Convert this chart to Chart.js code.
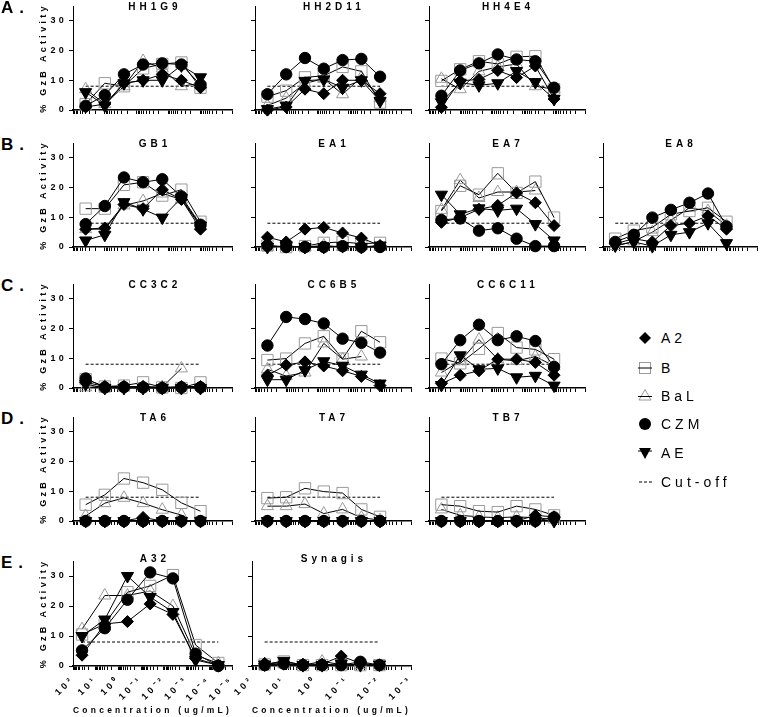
<!DOCTYPE html>
<html><head><meta charset="utf-8">
<script src="https://cdn.jsdelivr.net/npm/chart.js@4.4.0/dist/chart.umd.min.js"></script>
<style>
body{margin:0;background:#fff;width:760px;height:717px;position:relative;overflow:hidden;font-family:"Liberation Sans",Arial,sans-serif;color:#000;}
canvas{position:absolute;}
.ttl{position:absolute;font-weight:bold;font-size:10px;line-height:12px;letter-spacing:4px;text-align:center;white-space:nowrap;width:160px;}
.row{position:absolute;font-weight:bold;font-size:17px;line-height:20px;letter-spacing:6px;left:1px;}
.leg{position:absolute;font-size:14px;line-height:18px;letter-spacing:4px;left:661px;}
.sym{position:absolute;left:635px;width:20px;height:20px;}
</style></head><body>
<script>
// ---------- data ----------
const SERIES = ['A2', 'B', 'BaL', 'CZM', 'AE'];
const LEGEND_LABELS = ['A2', 'B', 'BaL', 'CZM', 'AE', 'Cut-off'];
const ROW_LABELS = ['A.', 'B.', 'C.', 'D.', 'E.'];
const CONC_4FOLD = [40, 10, 2.5, 0.625, 0.156, 0.039, 0.0098];
const CONC_10FOLD = [40, 4, 0.4, 0.04, 0.004, 0.0004, 0.00004];
const CUTOFF = 8;
const Y_TICKS = [0, 10, 20, 30];
const X_DECADES_5 = [2, 1, 0, -1, -2, -3];
const X_DECADES_7 = [2, 1, 0, -1, -2, -3, -4, -5];
const X_TITLE = 'Concentration (ug/mL)';
const Y_TITLE = '% GzB Activity';

// series order in each panel: A2, B, BaL, CZM, AE
const HH1G9 = [
  [1, 2, 9, 10, 12, 10, 7.5],
  [2, 9, 8, 14, 15.5, 16, 7.5],
  [7, 2, 8, 16.5, 14, 8, 9],
  [1.4, 5, 12, 15.3, 15.7, 15.3, 8.5],
  [6, 1.5, 9, 10, 10, 15, 11]
];
const HH2D11 = [
  [0, 1, 7, 5.5, 10, 10, 5.5],
  [4.5, 6.5, 11, 11.5, 14.5, 13, 2.5],
  [1.5, 4, 9, 10.5, 5.3, 11, 4],
  [5.3, 12, 17.5, 13.9, 16.8, 17.2, 11.2],
  [0.3, 1.4, 9.8, 10.3, 7.5, 10, 3]
];
const HH4E4 = [
  [0.9, 9.8, 10.3, 13.3, 10.9, 14.8, 3.7],
  [9.8, 13.7, 16.4, 15.5, 17.9, 18.1, 7],
  [10.5, 7, 13, 14.5, 15.5, 8, 7],
  [4.8, 13.3, 15.7, 18.7, 17, 16.4, 7.5],
  [2.6, 9.2, 8.3, 9, 13.1, 9.4, 3.7]
];
const GB1 = [
  [6, 6.4, 14.3, 12.9, 19.3, 16, 6],
  [12.9, 12.9, 20.9, 21.8, 17.3, 19.3, 8.5],
  [6, 6, 14, 15.5, 18, 16, 7],
  [7.7, 13.8, 23.4, 21.8, 22.8, 17, 7.5],
  [2.2, 4.1, 15.1, 12.7, 9.9, 16.5, 7.2]
];
const EA1 = [
  [3.3, 1.7, 6, 6.6, 4.7, 3, 0.5],
  [0.5, 0, 0.3, 1.4, 1.7, 1.1, 1.4],
  [0, 0.3, 0, 0.5, 0, 0.3, 0],
  [0.5, 0, 0, 0, 0.3, 0, 0],
  [0, 0.3, 0, 0, 0.3, 0, 0.5]
];
const EA7 = [
  [8.3, 9.9, 12.7, 14, 18.2, 14.9, 7.2],
  [12.1, 20.6, 17.6, 24.8, 18.2, 22, 9.9],
  [12.5, 22.5, 16.5, 18.5, 18.5, 19, null],
  [9.1, 9.6, 5.5, 6.3, 2.8, 0.3, 0.3],
  [17.6, 11, 13, 12.3, 12.9, 7.7, 2.2]
];
const EA8 = [
  [1.1, 2.8, 1.7, 7.2, 8, 10.5, 6],
  [2.8, 5.5, 6.6, 11, 12.1, 13.2, 8.5],
  [0.3, 1.9, 5, 9, 13.2, 12.1, 7.2],
  [1.7, 4.1, 9.9, 12.5, 14.9, 18, 6.9],
  [0.5, 1.7, 0.3, 4.1, 5, 8, 1.3]
];
const CC3C2 = [
  [1.9, 0.5, 0.5, 0.5, 0.2, 0.5, 0.5],
  [3, 0.5, 0.8, 1.9, 0.2, 0, 1.9],
  [0.2, 0.5, 0.5, 0.3, 0.3, 6.6, null],
  [3.2, 0.2, 0.3, 0.2, 0, 0.2, 0.2],
  [1.3, 0, 0, 0, 0, 0, 0]
];
const CC6B5 = [
  [4.3, 7.7, 8.8, 7.4, 5.8, 3.9, 0.8],
  [9.4, 9.9, 15, 17.4, 9.9, 19.1, 15.4],
  [6.3, 4, 5.2, 15, 9.7, 10.6, null],
  [14.3, 23.9, 23.2, 21.7, 16.6, 15.2, 11.9],
  [2.8, 2.8, 6, 9, 7.5, 4.5, 1.5]
];
const CC6C11 = [
  [1.5, 4.3, 5.8, 9.7, 9.7, 8.6, 4.3],
  [9.9, 8.3, 13.2, 18.5, 13.6, 13, 9.7],
  [5.2, 9, 16.3, 9.7, 9.1, 10.6, 7.4],
  [8, 16.1, 21.3, 16.1, 17.4, 15.8, 7.1],
  [1, 11, 6.3, 6.6, 3.6, 4.1, 0.8]
];
const TA6 = [
  [0, 0, 0, 1.2, 0, 0, 0],
  [5.5, 8.8, 14.3, 12.9, 10.5, 6.1, 3.3],
  [1.7, 6, 7.8, 6, 3.8, 2, null],
  [0, 0, 0, 0, 0, 0, 0],
  [0, 0, 0, 0, 0, 0, 0]
];
const TA7 = [
  [0, 0, 0, 0, 0, 0, 0],
  [7.7, 8, 11, 9.9, 9.4, 3.9, 1.4],
  [5, 5, 5.7, 2.5, 3.9, 1.1, 0.3],
  [0, 0, 0, 0, 0, 0, 0],
  [0, 0, 0, 0, 0, 0, 0]
];
const TB7 = [
  [0, 0, 0, 0, 0, 1.9, 1.4],
  [5.5, 5, 3.3, 3, 5, 3.9, 1.9],
  [3.9, 1.9, 1.4, 1.1, 1.4, 1.1, 0.5],
  [0, 0, 0, 0, 0, 0, 1.2],
  [0, 0, 0, 0, 0, 0, 0]
];
const A32 = [
  [3.6, 14, 14.8, 20.7, 17.2, 2.5, 0.3],
  [10.5, 14, 24.6, 26.7, 30.3, 7, 1],
  [12.3, 23.5, 23.5, 25, 20, 3.6, 0.9],
  [5.2, 12.6, 22.1, 31.2, 29.2, 4.1, 0],
  [10, 15.5, 30, 23, 18, 2, 0.3]
];
const SYNAGIS = [
  [0.9, 0.6, 0.6, 0.6, 3.3, 0.9, 0.3],
  [0.5, 1.5, 0.3, 0.3, 0.3, 0.3, 0.3],
  [0.3, 0.5, 0.3, 1.5, 0.5, 0.3, 0.3],
  [0.3, 0.8, 0.3, 0.3, 0.3, 1.4, 0.3],
  [0.5, 1.7, 0.3, 0.3, 0.8, 0.3, 0.5]
];

// ---------- layout ----------
const PANELS = [
  {name:'HH1G9', vals:HH1G9, row:0, col:0, conc:CONC_4FOLD, dec:X_DECADES_5},
  {name:'HH2D11', vals:HH2D11, row:0, col:1, conc:CONC_4FOLD, dec:X_DECADES_5},
  {name:'HH4E4', vals:HH4E4, row:0, col:2, conc:CONC_4FOLD, dec:X_DECADES_5},
  {name:'GB1', vals:GB1, row:1, col:0, conc:CONC_4FOLD, dec:X_DECADES_5},
  {name:'EA1', vals:EA1, row:1, col:1, conc:CONC_4FOLD, dec:X_DECADES_5},
  {name:'EA7', vals:EA7, row:1, col:2, conc:CONC_4FOLD, dec:X_DECADES_5},
  {name:'EA8', vals:EA8, row:1, col:3, conc:CONC_4FOLD, dec:X_DECADES_5},
  {name:'CC3C2', vals:CC3C2, row:2, col:0, conc:CONC_4FOLD, dec:X_DECADES_5},
  {name:'CC6B5', vals:CC6B5, row:2, col:1, conc:CONC_4FOLD, dec:X_DECADES_5},
  {name:'CC6C11', vals:CC6C11, row:2, col:2, conc:CONC_4FOLD, dec:X_DECADES_5},
  {name:'TA6', vals:TA6, row:3, col:0, conc:CONC_4FOLD, dec:X_DECADES_5},
  {name:'TA7', vals:TA7, row:3, col:1, conc:CONC_4FOLD, dec:X_DECADES_5},
  {name:'TB7', vals:TB7, row:3, col:2, conc:CONC_4FOLD, dec:X_DECADES_5},
  {name:'A32', vals:A32, row:4, col:0, conc:CONC_10FOLD, dec:X_DECADES_7},
  {name:'Synagis', vals:SYNAGIS, row:4, col:1, conc:CONC_4FOLD, dec:X_DECADES_5}
];
const ROW_ZERO = [111, 248, 389, 522, 666];
const COL_LEFT = [73, 252, 426, 600];
const PLOT_W = [160, 160, 160, 158];
const PLOT_H = 105;

const STY = {
  A2:  {pointStyle:'rectRot', pointRadius:6, pointBackgroundColor:'#000', pointBorderColor:'#000', pointRotation:0},
  B:   {pointStyle:'rect', pointRadius:8, pointBackgroundColor:'rgba(0,0,0,0)', pointBorderColor:'#9a9a9a', pointRotation:0},
  BaL: {pointStyle:'triangle', pointRadius:7, pointBackgroundColor:'rgba(0,0,0,0)', pointBorderColor:'#9a9a9a', pointRotation:0},
  CZM: {pointStyle:'circle', pointRadius:5.7, pointBackgroundColor:'#000', pointBorderColor:'#000', pointRotation:0},
  AE:  {pointStyle:'triangle', pointRadius:7, pointBackgroundColor:'#000', pointBorderColor:'#000', pointRotation:180}
};
const DRAW_ORDER = [3, 0, 4, 1, 2]; // first = on top

const SUP = {'-':'\u207B','0':'\u2070','1':'\u00B9','2':'\u00B2','3':'\u00B3','4':'\u2074','5':'\u2075'};
function decLabel(e){ return '10' + String(e).split('').map(ch => SUP[ch]).join(''); }

const spacing = {
  id:'spacing',
  beforeDraw(chart){ chart.ctx.letterSpacing = chart.options.plugins.spacing.px; }
};

PANELS.forEach(p => {
  const firstCol = p.col === 0, bottom = p.row === 4;
  const YW = firstCol ? 39 : (bottom ? 18 : 6), PT = 14, PR = 8, XH = bottom ? 51 : 8;
  const W = YW + PLOT_W[p.col] + PR, H = PT + PLOT_H + XH;
  const left = COL_LEFT[p.col] - YW, top = ROW_ZERO[p.row] - PLOT_H - PT;
  const c = document.createElement('canvas');
  c.width = W; c.height = H;
  c.style.left = left + 'px'; c.style.top = top + 'px';
  c.style.width = W + 'px'; c.style.height = H + 'px';
  document.body.appendChild(c);

  const t = document.createElement('div');
  t.className = 'ttl'; t.textContent = p.name;
  t.style.left = (COL_LEFT[p.col] + PLOT_W[p.col] / 2 - 80 + 2) + 'px';
  t.style.top = (ROW_ZERO[p.row] - (bottom ? 107 : 104) - 6) + 'px';
  document.body.appendChild(t);

  const datasets = DRAW_ORDER.map(i => {
    const s = STY[SERIES[i]];
    return Object.assign({
      label: SERIES[i],
      data: p.conc.map((x, k) => ({x: x, y: p.vals[i][k]})),
      borderColor:'#000', borderWidth:1, pointBorderWidth:1, tension:0,
      showLine:true, spanGaps:false, clip:false, pointHoverRadius: s.pointRadius
    }, s);
  });
  datasets.push({
    label:'Cut-off',
    data:[{x:p.conc[0], y:CUTOFF}, {x:p.conc[p.conc.length - 1], y:CUTOFF}],
    borderColor:'#000', borderWidth:1, borderDash:[3,2], pointRadius:0, clip:false
  });

  const decades = p.dec;
  const maxE = decades[0], minE = decades[decades.length - 1];
  const xTicks = [];
  decades.forEach(e => {
    xTicks.push({value: Math.pow(10, e)});
    if (e > minE) for (let m = 9; m >= 2; m--) xTicks.push({value: m * Math.pow(10, e - 1)});
  });

  new Chart(c, {
    type:'line',
    data:{datasets},
    options:{
      responsive:false, animation:false, devicePixelRatio:1, events:[],
      layout:{padding:{top:PT, right:PR, left:0, bottom:0}},
      plugins:{legend:{display:false}, tooltip:{enabled:false}, spacing:{px: '3.3px'}},
      scales:{
        x:{
          type:'logarithmic', reverse:true,
          min:Math.pow(10, minE), max:Math.pow(10, maxE),
          afterBuildTicks(scale){ scale.ticks = xTicks.map(o => ({value:o.value})); },
          afterFit(scale){ scale.height = XH; scale.paddingLeft = 0; scale.paddingRight = 0; },
          border:{display:true, color:'#000', width:1.5},
          grid:{display:true, drawOnChartArea:false, drawTicks:true, tickLength:4, color:'#000', tickColor:'#000', lineWidth:1},
          ticks:{
            display:bottom, autoSkip:false, minRotation:45, maxRotation:45, padding:4,
            color:'#000', font:{family:'Liberation Sans', weight:'bold', size:9},
            callback(v){
              const e = Math.round(Math.log10(v));
              return Math.abs(Math.pow(10, e) - v) < 1e-12 * Math.max(1, v) ? decLabel(e) : '';
            }
          },
          title:{display:bottom, text:X_TITLE, color:'#000', padding:{top:0, bottom:1},
                 font:{family:'Liberation Sans', weight:'bold', size:8.5}}
        },
        y:{
          type:'linear', min:0, max:35,
          afterBuildTicks(scale){ scale.ticks = Y_TICKS.map(v => ({value:v})); },
          afterFit(scale){ scale.width = YW; scale.paddingTop = 0; scale.paddingBottom = 0; },
          border:{display:true, color:'#000', width:1},
          grid:{display:true, drawOnChartArea:false, drawTicks:true, tickLength:4, color:'#000', tickColor:'#000'},
          ticks:{display:firstCol, padding:2, color:'#000', font:{family:'Liberation Sans', weight:'bold', size:9}},
          title:{display:firstCol, text:Y_TITLE, color:'#000', padding:{top:4, bottom:0},
                 font:{family:'Liberation Sans', weight:'bold', size:9}}
        }
      }
    },
    plugins:[spacing]
  });
});

// row labels
ROW_LABELS.forEach((r, i) => {
  const d = document.createElement('div');
  d.className = 'row'; d.textContent = r;
  d.style.top = (ROW_ZERO[i] - 103 - 10) + 'px';
  document.body.appendChild(d);
});

// legend
const LEG_Y = [338, 368, 396, 424, 453, 482];
const LEG_SVG = [
  '<polygon points="10,4 16,10 10,16 4,10" fill="#000"/>',
  '<rect x="4.5" y="4.5" width="11" height="11" fill="none" stroke="#9a9a9a"/><line x1="3" y1="10" x2="17" y2="10" stroke="#000"/>',
  '<polygon points="10,3.5 16,14 4,14" fill="none" stroke="#9a9a9a"/><line x1="3" y1="10.5" x2="17" y2="10.5" stroke="#000"/>',
  '<circle cx="10" cy="10" r="6" fill="#000"/>',
  '<line x1="3" y1="8" x2="17" y2="8" stroke="#000"/><polygon points="4,5 16,5 10,16" fill="#000"/>',
  '<line x1="4" y1="10" x2="18" y2="10" stroke="#000" stroke-dasharray="3,2"/>'
];
LEGEND_LABELS.forEach((lab, i) => {
  const s = document.createElement('div');
  s.className = 'sym';
  s.style.top = (LEG_Y[i] - 10) + 'px';
  s.innerHTML = '<svg width="20" height="20" viewBox="0 0 20 20">' + LEG_SVG[i] + '</svg>';
  document.body.appendChild(s);
  const d = document.createElement('div');
  d.className = 'leg'; d.textContent = lab;
  d.style.top = (LEG_Y[i] - 9) + 'px';
  document.body.appendChild(d);
});
</script>
</body></html>
